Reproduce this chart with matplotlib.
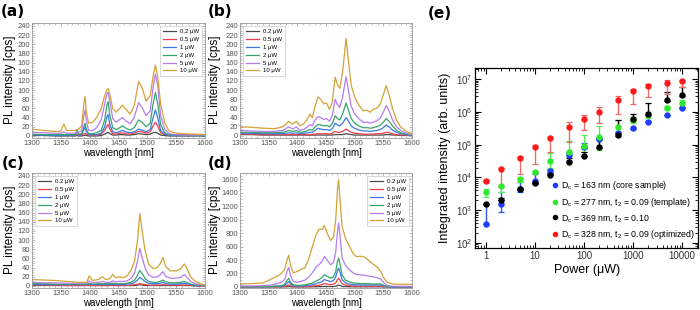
import numpy as np
import matplotlib
matplotlib.use("Agg")
import matplotlib.pyplot as plt
from matplotlib.lines import Line2D
from matplotlib.ticker import MultipleLocator, LogLocator, NullFormatter, FuncFormatter

plt.rcParams['font.family'] = ['Liberation Sans', 'DejaVu Sans']
plt.rcParams['mathtext.fontset'] = 'custom'
plt.rcParams['mathtext.rm'] = 'Liberation Sans'
plt.rcParams['mathtext.it'] = 'Liberation Sans:italic'
plt.rcParams['mathtext.default'] = 'regular'

# ---- spectra data (PL intensity in cps) ----
power_labels = ["0.2 μW", "0.5 μW", "1 μW", "2 μW", "5 μW", "10 μW"]
power_colors = ["#4a4a4a", "#ee3f4a", "#3b78e7", "#36a46a", "#b57cf0", "#d4a236"]

wl_a = [1300, 1320, 1340, 1350, 1355, 1360, 1375, 1378, 1381, 1386, 1390, 1392, 1394, 1398,
        1405, 1412, 1420, 1426, 1430, 1432, 1435, 1440, 1446, 1452, 1457, 1463, 1470, 1477,
        1485, 1491, 1498, 1505, 1510, 1514, 1518, 1523, 1530, 1537, 1545, 1560, 1580, 1600]
a_02 = [1, 1, 0, 0, 0, 0, 0, 1, 0, 0, 1, 2, 1, 0, 0, 0, 1, 4, 7, 8, 5, 2, 2, 3, 3, 2, 2, 3,
        5, 4, 3, 4, 7, 8, 6, 2, 1, 0, 0, 0, 0, 0]
a_05 = [3, 3, 2, 2, 2, 2, 2, 3, 2, 2, 5, 6, 4, 2, 2, 2, 4, 12, 22, 25, 15, 5, 4, 6, 7, 5, 4, 6,
        10, 9, 6, 9, 22, 30, 22, 7, 3, 2, 2, 3, 3, 3]
a_1 = [2, 2, 1, 1, 2, 1, 2, 12, 2, 3, 14, 20, 10, 3, 3, 3, 6, 20, 42, 47, 25, 9, 7, 10, 12, 9,
       7, 9, 15, 13, 9, 14, 40, 57, 40, 12, 4, 2, 1, 1, 1, 1]
a_2 = [4, 3, 3, 3, 3, 3, 3, 12, 4, 5, 20, 28, 15, 5, 5, 7, 12, 35, 68, 75, 45, 18, 14, 18, 22,
       17, 13, 18, 35, 30, 20, 28, 70, 95, 70, 25, 7, 3, 2, 2, 1, 1]
a_5 = [8, 7, 6, 6, 9, 6, 6, 8, 8, 12, 45, 57, 35, 12, 12, 18, 35, 70, 92, 96, 75, 38, 30, 36,
       40, 33, 27, 40, 73, 62, 44, 55, 105, 135, 110, 45, 15, 6, 3, 2, 2, 2]
a_10 = [15, 12, 10, 10, 26, 12, 12, 14, 15, 22, 70, 86, 55, 28, 30, 40, 60, 88, 102, 103, 90,
        60, 52, 60, 67, 58, 48, 65, 119, 105, 76, 88, 130, 155, 130, 70, 30, 12, 7, 5, 4, 3]

wl_b = [1300, 1320, 1340, 1360, 1375, 1385, 1392, 1398, 1405, 1412, 1418, 1422, 1426, 1431,
        1436, 1441, 1446, 1451, 1456, 1461, 1466, 1470, 1474, 1479, 1485, 1489, 1494, 1500,
        1507, 1515, 1522, 1527, 1532, 1538, 1544, 1550, 1555, 1560, 1566, 1573, 1580, 1590, 1600]
b_02 = [3, 3, 2, 2, 2, 2, 2, 2, 2, 2, 2, 2, 2, 2, 2, 2, 2, 2, 2, 2, 3, 3, 3, 3, 5, 4, 3, 2,
        2, 2, 2, 2, 2, 2, 2, 2, 3, 3, 2, 2, 1, 1, 1]
b_05 = [4, 4, 3, 3, 3, 3, 3, 3, 3, 3, 3, 3, 3, 4, 5, 5, 5, 5, 4, 6, 10, 8, 8, 10, 15, 12, 8,
        6, 5, 4, 4, 4, 4, 5, 5, 6, 8, 7, 5, 3, 2, 2, 1]
b_1 = [6, 6, 5, 5, 5, 7, 6, 7, 5, 6, 7, 8, 8, 12, 17, 15, 14, 14, 12, 16, 28, 24, 22, 28, 40,
       33, 22, 17, 13, 11, 11, 10, 11, 12, 14, 18, 24, 20, 13, 8, 5, 3, 1]
b_2 = [8, 8, 7, 7, 8, 12, 10, 12, 8, 9, 12, 14, 13, 20, 25, 24, 22, 23, 20, 27, 44, 38, 35,
       48, 72, 57, 38, 28, 22, 18, 18, 17, 18, 20, 23, 30, 38, 32, 22, 12, 7, 4, 2]
b_5 = [12, 11, 10, 10, 12, 20, 15, 20, 12, 15, 20, 25, 22, 35, 42, 40, 36, 38, 32, 45, 80, 68,
       62, 85, 129, 100, 65, 48, 38, 30, 30, 28, 30, 33, 38, 52, 66, 55, 35, 20, 12, 6, 3]
b_10 = [20, 19, 17, 16, 20, 32, 26, 32, 22, 28, 38, 48, 40, 65, 85, 80, 70, 72, 58, 75, 128,
        112, 104, 140, 213, 165, 110, 85, 68, 55, 56, 52, 58, 60, 68, 90, 110, 90, 60, 35, 20,
        10, 5]

wl_c = [1300, 1320, 1340, 1360, 1380, 1395, 1399, 1405, 1415, 1422, 1428, 1435, 1440, 1445,
        1451, 1458, 1465, 1472, 1478, 1483, 1487, 1491, 1496, 1502, 1510, 1517, 1522, 1527,
        1532, 1540, 1550, 1558, 1564, 1568, 1575, 1583, 1592, 1600]
c_02 = [1, 1, 1, 1, 1, 1, 1, 1, 1, 1, 1, 1, 1, 1, 1, 1, 1, 1, 1, 2, 3, 2, 1, 1, 1, 1, 1, 1,
        1, 1, 1, 1, 1, 1, 1, 0, 0, 0]
c_05 = [2, 2, 2, 1, 1, 1, 2, 1, 1, 1, 1, 1, 2, 1, 1, 1, 1, 2, 3, 4, 5, 4, 3, 2, 2, 2, 2, 3,
        2, 2, 2, 2, 2, 2, 1, 1, 0, 0]
c_1 = [3, 3, 3, 3, 3, 3, 4, 3, 3, 3, 3, 3, 4, 3, 3, 3, 4, 5, 8, 13, 19, 15, 10, 6, 5, 5, 6,
       8, 5, 4, 4, 5, 6, 5, 3, 1, 1, 0]
c_2 = [5, 5, 4, 4, 4, 4, 6, 4, 5, 5, 5, 5, 6, 5, 5, 5, 6, 8, 13, 24, 34, 27, 17, 10, 8, 8,
       10, 13, 9, 7, 7, 8, 10, 8, 4, 2, 1, 1]
c_5 = [8, 7, 7, 6, 6, 6, 11, 7, 8, 10, 8, 8, 11, 9, 10, 10, 11, 17, 28, 55, 82, 62, 40, 24,
       19, 20, 24, 31, 21, 17, 17, 19, 25, 20, 10, 5, 3, 1]
c_10 = [14, 13, 12, 10, 8, 8, 22, 12, 14, 20, 14, 16, 25, 18, 20, 18, 22, 35, 55, 100, 158,
        120, 78, 48, 38, 40, 48, 62, 42, 33, 33, 38, 48, 40, 20, 10, 5, 2]

wl_d = [1300, 1320, 1340, 1355, 1365, 1372, 1378, 1382, 1385, 1388, 1393, 1400, 1407, 1413,
        1420, 1427, 1433, 1438, 1443, 1447, 1452, 1458, 1463, 1467, 1470, 1472, 1474, 1478,
        1484, 1490, 1497, 1503, 1510, 1517, 1525, 1532, 1540, 1546, 1550, 1556, 1565, 1580, 1600]
d_02 = [1, 1, 1, 1, 1, 1, 2, 4, 6, 3, 1, 1, 1, 1, 2, 3, 4, 5, 6, 8, 7, 6, 7, 12, 22, 30, 22,
        10, 5, 4, 3, 3, 3, 3, 3, 3, 3, 3, 2, 1, 1, 1, 1]
d_05 = [3, 3, 3, 4, 5, 5, 10, 25, 30, 18, 8, 6, 6, 7, 10, 14, 20, 26, 35, 50, 42, 35, 40, 65,
        110, 130, 105, 50, 28, 20, 15, 14, 13, 13, 13, 12, 12, 12, 6, 3, 2, 2, 2]
d_1 = [5, 5, 5, 8, 10, 12, 25, 60, 80, 45, 20, 15, 15, 18, 25, 35, 50, 65, 80, 110, 95, 80,
       95, 150, 240, 280, 230, 110, 60, 45, 35, 32, 30, 30, 30, 30, 30, 30, 15, 5, 3, 3, 3]
d_2 = [5, 5, 5, 10, 15, 20, 40, 100, 130, 70, 30, 25, 25, 30, 45, 60, 90, 110, 140, 180, 160,
       130, 150, 230, 380, 430, 360, 180, 100, 80, 60, 55, 50, 50, 48, 45, 45, 45, 25, 10, 5,
       5, 5]
d_5 = [15, 15, 20, 30, 50, 70, 110, 230, 290, 170, 80, 70, 85, 100, 150, 220, 300, 330, 380,
       450, 400, 330, 360, 520, 820, 950, 800, 430, 320, 260, 210, 185, 180, 175, 160, 150,
       135, 115, 70, 25, 12, 10, 10]
d_10 = [45, 50, 60, 120, 160, 200, 260, 400, 470, 320, 210, 230, 265, 280, 420, 620, 780, 860,
        850, 910, 800, 690, 740, 1000, 1450, 1590, 1350, 900, 720, 620, 500, 450, 455, 445,
        390, 340, 290, 220, 150, 70, 45, 40, 40]

# ---- integrated intensity data (panel e) ----
power_uw = [1, 2, 5, 10, 20, 50, 100, 200, 500, 1000, 2000, 5000, 10000]
blue_val = [370, 1.5e3, 4.4e3, 7.9e3, 1.6e4, 4.8e4, 8.7e4, 1.5e5, 2.3e5, 3.2e5, 5e5, 8e5, 1.35e6]
blue_lo = [370, 850, 3.5e3, 6.5e3, 1.4e4, 3.5e4, 8e4, 1.4e5, 2.2e5, 3.1e5, 4.8e5, 7.8e5, 1.3e6]
blue_hi = [1.5e3, 3.6e3, 7.2e3, 1.25e4, 1.8e4, 5.5e4, 1.1e5, 1.6e5, 2.5e5, 3.3e5, 5.2e5, 8.2e5, 1.4e6]
green_val = [3.6e3, 5.5e3, 8.7e3, 1.5e4, 3.2e4, 6e4, 9.4e4, 1.7e5, 3.4e5, 5.8e5, 8e5, 1.35e6, 1.9e6]
green_lo = [2.6e3, 3.6e3, 7.2e3, 1.4e4, 1.9e4, 4.5e4, 6e4, 7e4, 2.3e5, 4.5e5, 6.5e5, 1.25e6, 1.7e6]
green_hi = [4.3e3, 5.5e3, 9.6e3, 1.6e4, 5.6e4, 1.3e5, 2e5, 3.7e5, 5.5e5, 7e5, 1e6, 1.5e6, 2.3e6]
black_val = [1.5e3, 2.1e3, 4.5e3, 7e3, 1.2e4, 3e4, 4.6e4, 8.5e4, 2e5, 6e5, 8.5e5, 2.3e6, 3.2e6]
black_lo = [1.5e3, 2.1e3, 4.2e3, 6.8e3, 1.15e4, 2.9e4, 4.4e4, 8e4, 1.9e5, 5.5e5, 8e5, 2.2e6, 3.1e6]
black_hi = [1.5e3, 2.3e3, 4.8e3, 7.5e3, 1.3e4, 3.8e4, 6e4, 1.5e5, 5.5e5, 8.9e5, 1.85e6, 4.1e6, 5.6e6]
red_val = [7.9e3, 1.8e4, 4e4, 8.3e4, 1.6e5, 3.5e5, 6e5, 1e6, 2.3e6, 4.4e6, 6.4e6, 7.4e6, 8.9e6]
red_lo = [7.5e3, 5.5e3, 1.3e4, 2.5e4, 6e4, 1.2e5, 2.8e5, 4.5e5, 8.5e5, 1.8e6, 2.8e6, 3.6e6, 5.9e6]
red_hi = [8.3e3, 2e4, 4.2e4, 1e5, 1.7e5, 4.8e5, 8e5, 1.45e6, 3e6, 5e6, 7.2e6, 9.3e6, 9.3e6]
sample_labels = [r"D$_c$ = 163 nm (core sample)",
                 r"D$_c$ = 277 nm, t$_2$ = 0.09 (template)",
                 r"D$_c$ = 369 nm, t$_2$ = 0.10",
                 r"D$_c$ = 328 nm, t$_2$ = 0.09 (optimized)"]

W, H = 700, 310
fig = plt.figure(figsize=(W / 100, H / 100), dpi=100)


def box(x0, y0, x1, y1):
    # pixel box (top-left origin) -> figure rect
    return [x0 / W, 1 - y1 / H, (x1 - x0) / W, (y1 - y0) / H]


def ftext(x, y, s, **kw):
    fig.text(x / W, 1 - y / H, s, ha='center', va='center', **kw)


def spectra_panel(rect, wl, series, ylim, ystep, legend_loc):
    ax = fig.add_axes(rect)
    for vals, lab, col in zip(series, power_labels, power_colors):
        ax.plot(wl, vals, color=col, lw=0.9, label=lab)
    ax.set_xlim(1300, 1600)
    ax.set_ylim(*ylim)
    ax.xaxis.set_major_locator(MultipleLocator(50))
    ax.xaxis.set_minor_locator(MultipleLocator(10))
    ax.yaxis.set_major_locator(MultipleLocator(ystep))
    ax.yaxis.set_minor_locator(MultipleLocator(ystep / 4))
    ax.tick_params(which='both', direction='in', top=True, right=True,
                   colors='#999999', labelcolor='#555555', labelsize=5.5, pad=1.5)
    ax.tick_params(which='major', length=2.5, width=0.5)
    ax.tick_params(which='minor', length=1.2, width=0.4)
    for s in ax.spines.values():
        s.set_color('#999999')
        s.set_linewidth(0.6)
    leg = ax.legend(loc=legend_loc, fontsize=4.3, frameon=True, fancybox=False,
                    handlelength=2.2, handletextpad=0.6, labelspacing=0.45,
                    borderpad=0.5, borderaxespad=0.5)
    leg.get_frame().set_edgecolor('#bbbbbb')
    leg.get_frame().set_linewidth(0.5)
    return ax


spectra_panel(box(32, 23, 205, 138), wl_a, [a_02, a_05, a_1, a_2, a_5, a_10],
              (-4.4, 246.5), 20, 'upper right')
spectra_panel(box(240, 23, 412, 138), wl_b, [b_02, b_05, b_1, b_2, b_5, b_10],
              (-4.4, 246.5), 20, 'upper left')
spectra_panel(box(32, 173, 205, 288), wl_c, [c_02, c_05, c_1, c_2, c_5, c_10],
              (-4.4, 246.5), 20, 'upper left')
spectra_panel(box(240, 173, 412, 288), wl_d, [d_02, d_05, d_1, d_2, d_5, d_10],
              (-15, 1690), 200, 'upper right')

for (px, py) in [(118, 153), (326, 153), (118, 303), (326, 303)]:
    ftext(px, py, "wavelength [nm]", fontsize=7)
for (px, py) in [(10, 80), (215, 80), (10, 230), (215, 230)]:
    ftext(px, py, "PL intensity [cps]", fontsize=8.5, rotation=90)

for (px, py, s) in [(13, 11, "(a)"), (220, 11, "(b)"), (13, 163, "(c)"),
                    (220, 163, "(d)"), (440, 14, "(e)")]:
    ftext(px, py, s, fontsize=11, fontweight='bold', family='DejaVu Sans')

# ---- panel (e) ----
axe = fig.add_axes(box(475, 68, 698, 248))
axe.set_xscale('log')
axe.set_yscale('log')
groups = [
    (blue_val, blue_lo, blue_hi, '#1f3cff', '#3355ff'),
    (green_val, green_lo, green_hi, '#2ee82e', '#55ee55'),
    (black_val, black_lo, black_hi, 'black', 'black'),
    (red_val, red_lo, red_hi, '#ff1a1a', '#f06a6a'),
]
handles = []
for (v, lo, hi, mcol, ecol), lab in zip(groups, sample_labels):
    v = np.array(v)
    yerr = [v - np.array(lo), np.array(hi) - v]
    axe.errorbar(power_uw, v, yerr=yerr, fmt='o', ms=3.6, mfc=mcol, mec=mcol,
                 ecolor=ecol, elinewidth=1.0, capsize=2.2, capthick=0.9)
    handles.append(Line2D([], [], marker='o', ls='', ms=3, color=mcol, label=lab))
axe.set_xlim(0.6, 21000)
axe.set_ylim(70, 2.2e7)
axe.xaxis.set_major_locator(LogLocator(base=10, numticks=10))
axe.xaxis.set_minor_locator(LogLocator(base=10, subs=np.arange(2, 10), numticks=20))
axe.xaxis.set_minor_formatter(NullFormatter())
axe.xaxis.set_major_formatter(FuncFormatter(lambda v, p: f"{v:g}"))
axe.yaxis.set_major_locator(LogLocator(base=10, numticks=10))
axe.yaxis.set_minor_locator(LogLocator(base=10, subs=np.arange(2, 10), numticks=20))
axe.yaxis.set_minor_formatter(NullFormatter())
axe.tick_params(which='both', direction='in', top=True, right=True,
                labelsize=7, labelcolor='#333333', pad=2)
axe.tick_params(which='major', length=4, width=0.8)
axe.tick_params(which='minor', length=2, width=0.6)
for s in axe.spines.values():
    s.set_linewidth(0.9)
axe.legend(handles=handles, loc='lower left', bbox_to_anchor=(0.32, 0.02),
           frameon=False, fontsize=6.3, handletextpad=0.1, labelspacing=0.45,
           borderaxespad=0, handlelength=1.2)
ftext(445, 158, "Integrated intensity (arb. units)", fontsize=9, rotation=90)
ftext(587, 270, "Power (μW)", fontsize=9)

fig.savefig("out.png", dpi=100)
